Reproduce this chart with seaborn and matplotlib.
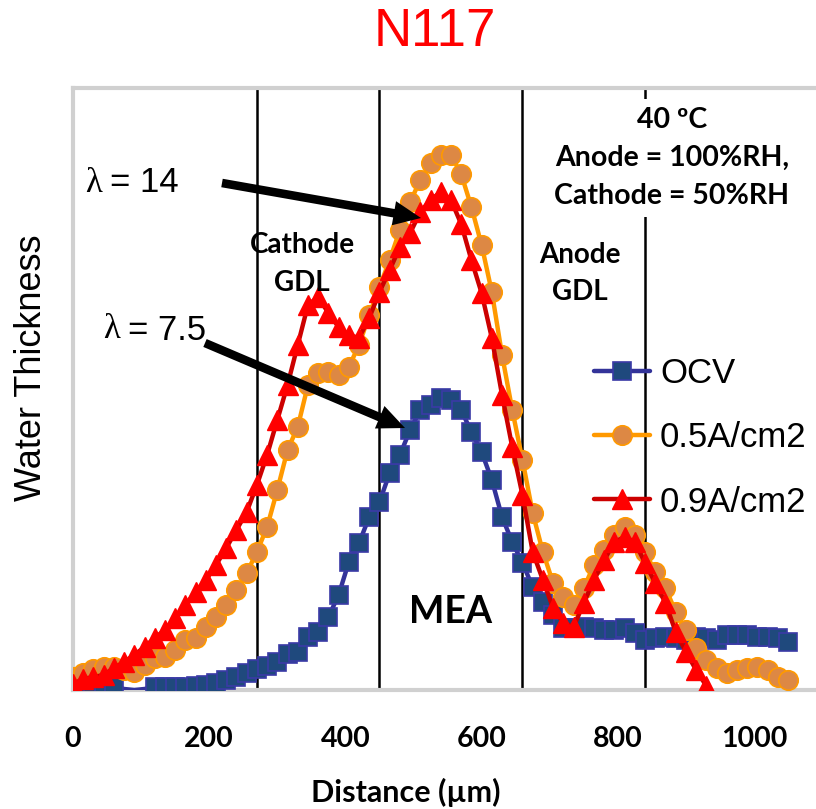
import numpy as np
import pandas as pd
import seaborn as sns
import matplotlib.pyplot as plt

# ====== data (distance in um, water thickness in arb. units) ======
distance = [0, 15, 30, 45, 60, 75, 90, 105, 120, 135,
            150, 165, 180, 195, 210, 225, 240, 255, 270, 285,
            300, 315, 330, 345, 360, 375, 390, 405, 420, 435,
            450, 465, 480, 495, 510, 525, 540, 555, 570, 585,
            600, 615, 630, 645, 660, 675, 690, 705, 720, 735,
            750, 765, 780, 795, 810, 825, 840, 855, 870, 885,
            900, 915, 930, 945, 960, 975, 990, 1005, 1020, 1035,
            1050]

ocv = [4, 3, 2, 3, 4, 1, 0, 1, 3, 3,
       3, 3, 4, 5, 7, 10, 13, 17, 21, 24,
       28, 36, 38, 53, 58, 73, 95, 128, 147, 173,
       188, 217, 235, 260, 280, 285, 292, 290, 280, 258,
       238, 210, 173, 148, 127, 103, 88, 75, 62, 62,
       63, 62, 60, 60, 62, 57, 50, 52, 53, 52,
       50, 53, 52, 50, 55, 55, 55, 53, 53, 52,
       48]

half_amp = [13, 17, 21, 23, 23, 20, 18, 25, 32, 33,
            40, 50, 52, 63, 73, 85, 100, 117, 138, 163,
            200, 240, 263, 305, 317, 318, 315, 323, 345, 375,
            403, 430, 460, 488, 510, 527, 535, 535, 516, 483,
            445, 398, 335, 280, 230, 177, 138, 107, 93, 85,
            102, 125, 140, 155, 163, 155, 138, 118, 102, 78,
            60, 42, 30, 22, 17, 20, 22, 23, 20, 13,
            10]

high_amp = [6, 11, 13, 15, 22, 28, 35, 43, 52, 60,
            72, 85, 98, 110, 125, 142, 160, 178, 205, 235,
            270, 305, 345, 385, 393, 377, 363, 355, 352, 372,
            398, 420, 443, 457, 478, 490, 498, 490, 466, 430,
            397, 352, 295, 243, 195, 138, 110, 82, 67, 63,
            87, 110, 130, 148, 153, 148, 127, 107, 87, 58,
            38, 20, 4]

boundaries = [270, 450, 660, 840]   # layer borders (um)
xticks = [0, 200, 400, 600, 800, 1000]

# ocv points hidden in the original (no marker drawn)
ocv_marks = [i for i in range(len(distance)) if i not in (5, 6, 7)]

# ====== helpers: pixel position -> figure fraction ======
W, H = 816, 809
def fx(px):
    return px / W
def fy(py):
    return 1 - py / H

sns.set_theme(style="white")
plt.rcParams["font.family"] = ["Liberation Sans", "DejaVu Sans"]
plt.rcParams["text.color"] = "black"
plt.rcParams["xtick.labelcolor"] = "black"
BOLD = ["Lato", "DejaVu Sans"]

fig = plt.figure(figsize=(8.16, 8.09), dpi=100)
ax = fig.add_axes([fx(73), fy(690), 1 - fx(73), fy(88) - fy(690)])

for b in boundaries:
    ax.axvline(b, color="black", lw=1.8, zorder=1)

sns.lineplot(x=distance, y=ocv, ax=ax, color="#333399", lw=3.2, marker="s",
             markersize=13, markerfacecolor="#1f497d", markeredgecolor="#3a3aa6",
             markeredgewidth=1.2, markevery=ocv_marks, label="OCV", zorder=3)
sns.lineplot(x=distance, y=half_amp, ax=ax, color="#ff9900", lw=3.2, marker="o",
             markersize=14, markerfacecolor="#dd8844", markeredgecolor="#ff9900",
             markeredgewidth=1.2, label="0.5A/cm2", zorder=4)
sns.lineplot(x=distance[:len(high_amp)], y=high_amp, ax=ax, color="#cc0000", lw=3.2,
             marker="^", markersize=15, markerfacecolor="#ff0000", markeredgecolor="#ff0000",
             markeredgewidth=1, label="0.9A/cm2", zorder=5)

ax.set_xlim(0, 1091)
ax.set_ylim(0, 602)
ax.set_yticks([])
ax.set_xticks(xticks)
ax.set_xticklabels([str(t) for t in xticks], fontsize=20.5, fontweight="bold", family=BOLD,
                   color="black")
ax.tick_params(axis="x", direction="out", length=6, width=1.2, color="#bfbfbf", pad=20)
ax.set_xlabel("")
ax.set_ylabel("")
for s in ["left", "top", "bottom"]:
    ax.spines[s].set_color("#d0d0d0")
    ax.spines[s].set_linewidth(3)
ax.spines["right"].set_visible(False)

leg = ax.legend(loc="upper left", bbox_to_anchor=(fx(594), fy(357)), bbox_transform=fig.transFigure,
                frameon=False, fontsize=25, handlelength=1.6, handletextpad=0.3,
                labelspacing=0.9, borderpad=0, borderaxespad=0)
for t in leg.get_texts():
    t.set_color("black")

# ====== texts ======
fig.text(fx(435), fy(32), "N117", color="#ff0000", fontsize=38, ha="center", va="center")
fig.text(fx(32), fy(368), "Water Thickness", fontsize=26, rotation=90, ha="center", va="center")
fig.text(fx(406), fy(792), "Distance (\u00b5m)", fontsize=22, fontweight="bold", family=BOLD,
         ha="center", va="center")

fig.text(fx(302), fy(245), "Cathode", fontsize=20, fontweight="bold", family=BOLD, ha="center", va="center")
fig.text(fx(302), fy(283), "GDL", fontsize=20, fontweight="bold", family=BOLD, ha="center", va="center")
fig.text(fx(580), fy(255), "Anode", fontsize=20, fontweight="bold", family=BOLD, ha="center", va="center")
fig.text(fx(580), fy(292), "GDL", fontsize=20, fontweight="bold", family=BOLD, ha="center", va="center")
fig.text(fx(451), fy(612), "MEA", fontsize=27, fontweight="bold", family=BOLD, ha="center", va="center")
fig.text(fx(672), fy(158), "40 \u00baC\nAnode = 100%RH,\nCathode = 50%RH", fontsize=20.5,
         fontweight="bold", family=BOLD, ha="center", va="center", multialignment="center",
         linespacing=1.55, bbox=dict(facecolor="white", edgecolor="none", pad=6))

fig.text(fx(85), fy(183), "\u03bb", fontsize=25, family=["Liberation Serif", "DejaVu Serif"], ha="left", va="center")
fig.text(fx(110), fy(183), "= 14", fontsize=25, ha="left", va="center")
fig.text(fx(103), fy(330), "\u03bb", fontsize=25, family=["Liberation Serif", "DejaVu Serif"], ha="left", va="center")
fig.text(fx(128), fy(330), "= 7.5", fontsize=25, ha="left", va="center")

arrow = dict(arrowstyle="simple,head_length=0.9,head_width=0.8,tail_width=0.28",
             mutation_scale=22, facecolor="black", edgecolor="none", shrinkA=0, shrinkB=0)
ax.annotate("", xy=(fx(421), fy(218)), xytext=(fx(222), fy(183)),
            xycoords="figure fraction", textcoords="figure fraction", arrowprops=arrow, zorder=6)
ax.annotate("", xy=(fx(405), fy(428)), xytext=(fx(205), fy(343)),
            xycoords="figure fraction", textcoords="figure fraction", arrowprops=arrow, zorder=6)

plt.savefig("out.png", dpi=100)
